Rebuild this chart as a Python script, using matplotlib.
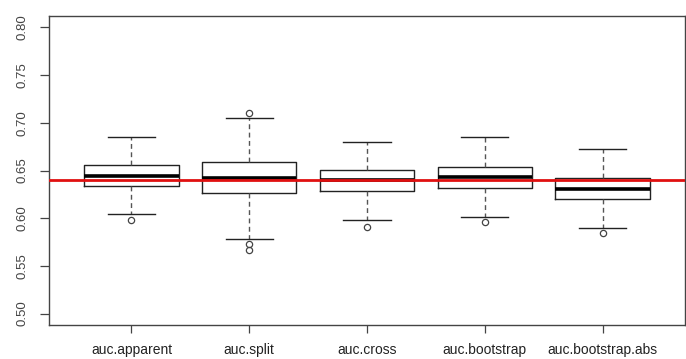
import matplotlib
matplotlib.use("Agg")
import matplotlib.pyplot as plt

plt.rcParams["font.family"] = ["Liberation Sans", "DejaVu Sans"]

# data
labels = ["auc.apparent", "auc.split", "auc.cross", "auc.bootstrap", "auc.bootstrap.abs"]
medians = [0.6447, 0.6419, 0.6405, 0.6427, 0.6311]
q1 = [0.6335, 0.6266, 0.6287, 0.6318, 0.6206]
q3 = [0.6560, 0.6587, 0.6510, 0.6535, 0.6419]
whis_lo = [0.6042, 0.5783, 0.5983, 0.6010, 0.5899]
whis_hi = [0.6853, 0.7053, 0.6800, 0.6853, 0.6723]
outliers = [[0.5986], [0.7098, 0.5734, 0.5671], [0.5905], [0.5955], [0.5842]]
ref_auc = 0.6405

stats = []
for i, lab in enumerate(labels):
    stats.append({
        "label": lab, "med": medians[i], "q1": q1[i], "q3": q3[i],
        "whislo": whis_lo[i], "whishi": whis_hi[i], "fliers": outliers[i],
    })

fig = plt.figure(figsize=(6.86, 3.59), dpi=100)
ax = fig.add_axes([49 / 686, 1 - 325 / 359, 636 / 686, 309 / 359])

pos = list(range(1, len(labels) + 1))
ax.bxp(stats, positions=pos, widths=0.8, capwidths=0.4, showfliers=True,
       boxprops=dict(color="#222222", lw=1.0),
       medianprops=dict(color="black", lw=2.6),
       whiskerprops=dict(color="#555555", lw=1.0, linestyle=(0, (3.5, 2.5))),
       capprops=dict(color="#222222", lw=1.0),
       flierprops=dict(marker="o", markersize=4.5, markerfacecolor="none",
                       markeredgecolor="#444444", markeredgewidth=0.9))

# reference line
ax.axhline(ref_auc, color="#e01010", lw=2.0, zorder=5)

ax.set_xlim(0.3, 5.7)
ax.set_ylim(0.488, 0.812)
ax.set_yticks([0.50, 0.55, 0.60, 0.65, 0.70, 0.75, 0.80])
ax.set_yticklabels(["0.50", "0.55", "0.60", "0.65", "0.70", "0.75", "0.80"],
                   rotation=90, va="center", color="#444444", fontsize=9.5)
ax.set_xticks(pos)
ax.set_xticklabels(labels, fontsize=10, color="#222222")

ax.tick_params(axis="y", length=6.5, width=0.9, color="#444444", pad=8)
ax.tick_params(axis="x", length=6, width=0.9, color="#444444", pad=7)
for sp in ax.spines.values():
    sp.set_color("#444444")
    sp.set_linewidth(1.0)

fig.savefig("out.png", dpi=100)
